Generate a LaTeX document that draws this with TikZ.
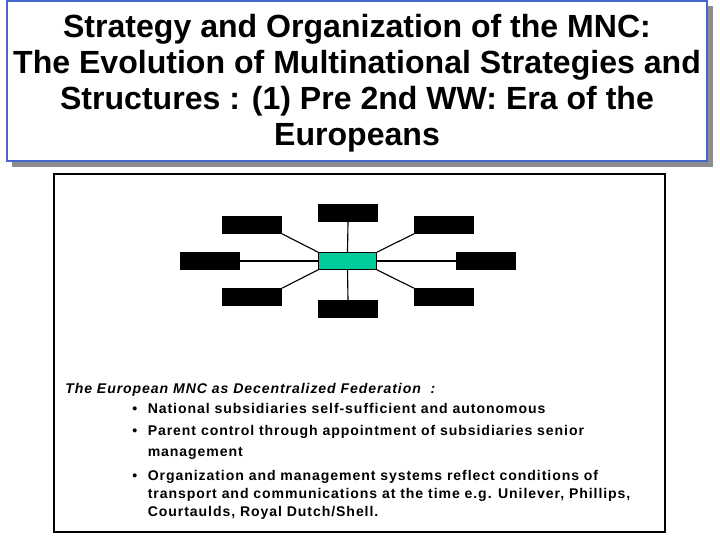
\documentclass[tikz,border=0pt]{standalone}
\usepackage{fontspec}
\setmainfont{Liberation Sans}
\newfontfamily\bodyfont[LetterSpace=6.6]{Liberation Sans}
\definecolor{frameblue}{RGB}{68,102,204}
\definecolor{subgreen}{RGB}{0,204,153}
\tikzset{
  unit/.style={fill=black, inner sep=0pt, outer sep=0pt, minimum width=1.5cm, minimum height=0.44cm},
  parent/.style={fill=subgreen, draw=black, line width=0.6pt, inner sep=0pt, outer sep=0pt, minimum width=1.47cm, minimum height=0.44cm},
  link/.style={line width=0.8pt},
  bodyline/.style={anchor=base west, inner sep=0pt, font=\bodyfont\fontsize{10}{12}\selectfont\bfseries}
}
\begin{document}
\begin{tikzpicture}[x=0.025cm,y=-0.025cm]
\useasboundingbox (0,0) rectangle (720,540);
% title
\fill[gray!90] (12,6) rectangle (713,167);
\filldraw[fill=white, draw=frameblue, line width=1.4pt] (7,1) rectangle (707,161);
\node[align=center, font=\fontsize{22.8}{25.6}\selectfont\bfseries] (title) at (357,83)
{Strategy and Organization of the MNC:\\The Evolution of Multinational Strategies and\\Structures : (1) Pre 2nd WW: Era of the\\Europeans};
% main frame
\draw[line width=0.8pt] (54,174) rectangle (665,532);
% federation
\node[parent] (ctr) at (347.5,261) {};
\node[unit] (top) at (348,213) {};
\node[unit] (bot) at (348,309) {};
\node[unit] (lft) at (210,261) {};
\node[unit] (rgt) at (486,261) {};
\node[unit] (ul) at (252,225) {};
\node[unit] (ur) at (444,225) {};
\node[unit] (ll) at (252,297) {};
\node[unit] (lr) at (444,297) {};
\draw[link] (top.south)--(ctr.north);
\draw[link] (ctr.south)--(bot.north);
\draw[link] (lft.east)--(ctr.west);
\draw[link] (ctr.east)--(rgt.west);
\draw[link] (ul.south east)--(ctr.north west);
\draw[link] (ur.south west)--(ctr.north east);
\draw[link] (ll.north east)--(ctr.south west);
\draw[link] (lr.north west)--(ctr.south east);
% text
\node[bodyline, font=\bodyfont\fontsize{10}{12}\selectfont\bfseries\itshape] (head) at (65,393) {The European MNC as Decentralized Federation\ \ :};
\node[bodyline] (b1) at (132,413) {•};
\node[bodyline] (t1) at (147.5,413) {National subsidiaries self-sufficient and autonomous};
\node[bodyline] (b2) at (132,435) {•};
\node[bodyline] (t2) at (147.5,435) {Parent control through appointment of subsidiaries senior};
\node[bodyline] (t2b) at (147.5,456) {management};
\node[bodyline] (b3) at (132,480) {•};
\node[bodyline] (t3) at (147.5,480) {Organization and management systems reflect conditions of};
\node[bodyline] (t3b) at (147.5,498) {transport and communications at the time e.g. Unilever, Phillips,};
\node[bodyline] (t3c) at (147.5,516) {Courtaulds, Royal Dutch/Shell.};
\end{tikzpicture}
\end{document}
